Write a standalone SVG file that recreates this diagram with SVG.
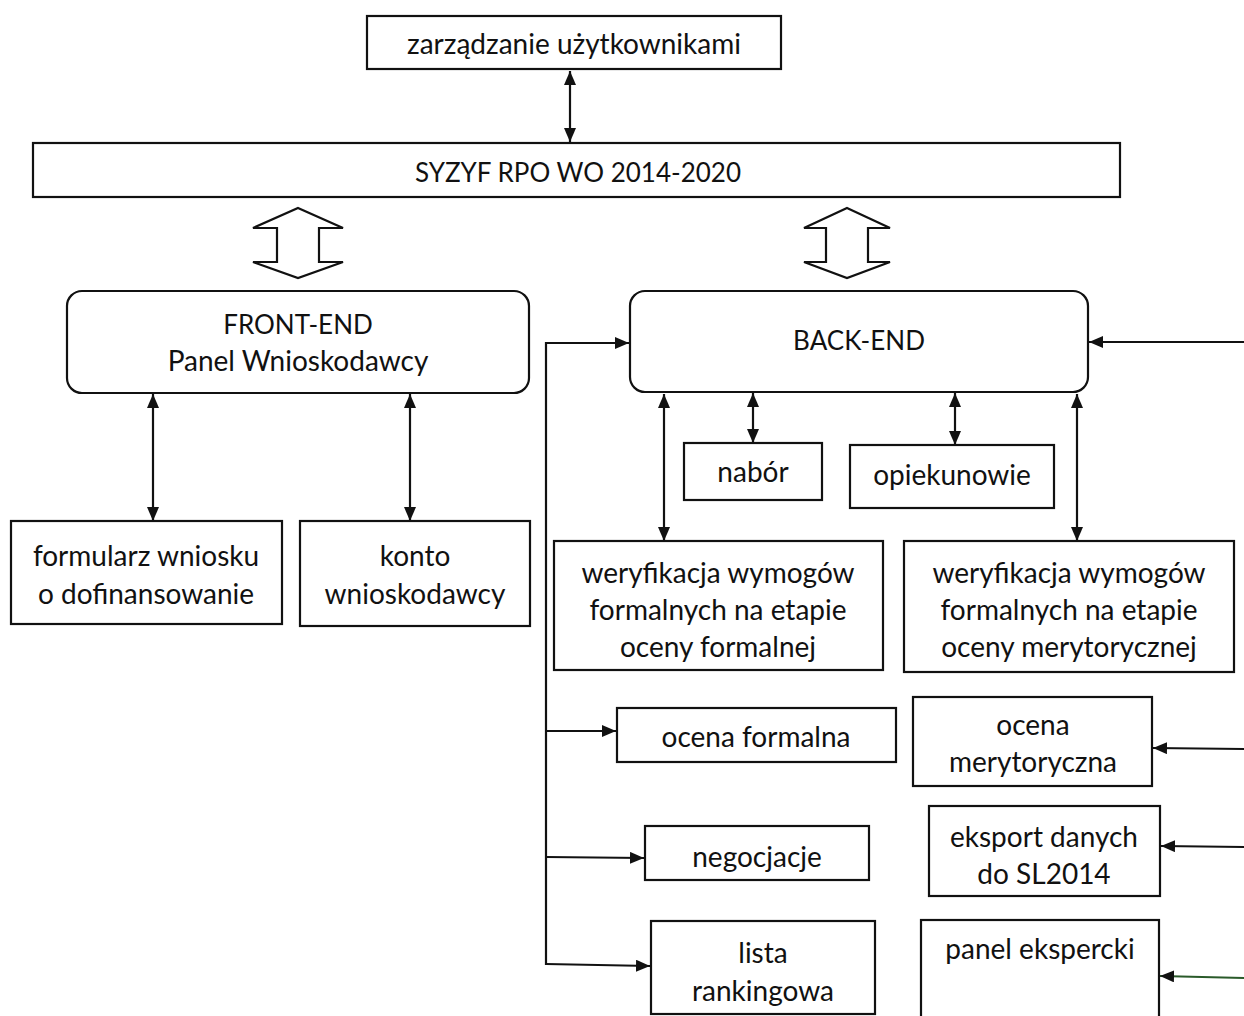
<svg xmlns="http://www.w3.org/2000/svg" width="1244" height="1016" viewBox="0 0 1244 1016">
<style>
.box{fill:#fff;stroke:#111;stroke-width:2.2}
.t{font-family:Lato,"Open Sans","Liberation Sans",sans-serif;font-size:28px;fill:#111;text-anchor:middle}
.u{font-size:26px}
.c{fill:none;stroke:#111;stroke-width:2.2}
.hollow{fill:#fff;stroke:#111;stroke-width:2.2;stroke-linejoin:miter}
</style>
<defs>
<marker id="ah" viewBox="0 0 14 12" refX="14" refY="6" markerWidth="14" markerHeight="12" markerUnits="userSpaceOnUse" orient="auto-start-reverse">
<path d="M0,0 L14,6 L0,12 Z" fill="#111"/>
</marker>
</defs>
<rect width="1244" height="1016" fill="#fff"/>

<g id="connectors">
<line class="c" x1="570" y1="71" x2="570" y2="142" marker-start="url(#ah)" marker-end="url(#ah)"/>
<polygon class="hollow" points="298,208 343,228 319,228 319,262 343,262 298,278 253,262 277,262 277,228 253,228"/>
<polygon class="hollow" points="847,208 890,228 868,228 868,262 890,262 847,278 804,262 826,262 826,228 804,228"/>
<line class="c" x1="153" y1="394" x2="153" y2="521" marker-start="url(#ah)" marker-end="url(#ah)"/>
<line class="c" x1="410" y1="394" x2="410" y2="521" marker-start="url(#ah)" marker-end="url(#ah)"/>
<line class="c" x1="664" y1="394" x2="664" y2="541" marker-start="url(#ah)" marker-end="url(#ah)"/>
<line class="c" x1="753" y1="393" x2="753" y2="443" marker-start="url(#ah)" marker-end="url(#ah)"/>
<line class="c" x1="955" y1="393" x2="955" y2="445" marker-start="url(#ah)" marker-end="url(#ah)"/>
<line class="c" x1="1077" y1="394" x2="1077" y2="541" marker-start="url(#ah)" marker-end="url(#ah)"/>
<polyline class="c" points="546,965 546,343 629,343" marker-end="url(#ah)"/>
<line class="c" x1="546" y1="731" x2="616" y2="731" marker-end="url(#ah)"/>
<line class="c" x1="546" y1="857" x2="644" y2="858" marker-end="url(#ah)"/>
<line class="c" x1="546" y1="964" x2="650" y2="966" marker-end="url(#ah)"/>
<line class="c" x1="1244" y1="342" x2="1089" y2="342" marker-end="url(#ah)"/>
<line class="c" x1="1244" y1="749" x2="1153" y2="748" marker-end="url(#ah)"/>
<line class="c" x1="1244" y1="847" x2="1161" y2="846" marker-end="url(#ah)"/>
<line class="c" x1="1244" y1="978" x2="1160" y2="976" marker-end="url(#ah)" style="stroke:#2a5a2a"/>
</g>

<g id="users"><rect class="box" x="367" y="16" width="414" height="53"/><text class="t" x="574" y="54">zarządzanie użytkownikami</text></g>
<g id="syzyf"><rect class="box" x="33" y="143" width="1087" height="54"/><text class="t u" x="578" y="182">SYZYF RPO WO 2014-2020</text></g>
<g id="frontend"><rect class="box" x="67" y="291" width="462" height="102" rx="15"/><text class="t u" x="298" y="334">FRONT-END</text><text class="t" x="298" y="371">Panel Wnioskodawcy</text></g>
<g id="backend"><rect class="box" x="630" y="291" width="458" height="101" rx="15"/><text class="t u" x="859" y="350">BACK-END</text></g>
<g id="formularz"><rect class="box" x="11" y="521" width="271" height="103"/><text class="t" x="146" y="566">formularz wniosku</text><text class="t" x="146" y="604">o dofinansowanie</text></g>
<g id="konto"><rect class="box" x="300" y="521" width="230" height="105"/><text class="t" x="415" y="566">konto</text><text class="t" x="415" y="604">wnioskodawcy</text></g>
<g id="nabor"><rect class="box" x="684" y="443" width="138" height="57"/><text class="t" x="753" y="482">nabór</text></g>
<g id="opiekunowie"><rect class="box" x="850" y="445" width="204" height="63"/><text class="t" x="952" y="485">opiekunowie</text></g>
<g id="wer-formalna"><rect class="box" x="554" y="541" width="329" height="129"/><text class="t" x="718" y="583">weryfikacja wymogów</text><text class="t" x="718" y="620">formalnych na etapie</text><text class="t" x="718" y="657">oceny formalnej</text></g>
<g id="wer-merytoryczna"><rect class="box" x="904" y="541" width="330" height="131"/><text class="t" x="1069" y="583">weryfikacja wymogów</text><text class="t" x="1069" y="620">formalnych na etapie</text><text class="t" x="1069" y="657">oceny merytorycznej</text></g>
<g id="ocena-formalna"><rect class="box" x="617" y="708" width="279" height="54"/><text class="t" x="756" y="747">ocena formalna</text></g>
<g id="ocena-merytoryczna"><rect class="box" x="913" y="697" width="239" height="89"/><text class="t" x="1033" y="735">ocena</text><text class="t" x="1033" y="772">merytoryczna</text></g>
<g id="negocjacje"><rect class="box" x="645" y="826" width="224" height="54"/><text class="t" x="757" y="867">negocjacje</text></g>
<g id="eksport"><rect class="box" x="929" y="806" width="231" height="90"/><text class="t" x="1044" y="847">eksport danych</text><text class="t" x="1044" y="884">do SL2014</text></g>
<g id="lista"><rect class="box" x="651" y="921" width="224" height="93"/><text class="t" x="763" y="963">lista</text><text class="t" x="763" y="1001">rankingowa</text></g>
<g id="panel"><rect class="box" x="921" y="920" width="238" height="100"/><text class="t" x="1040" y="959">panel ekspercki</text></g>
</svg>
